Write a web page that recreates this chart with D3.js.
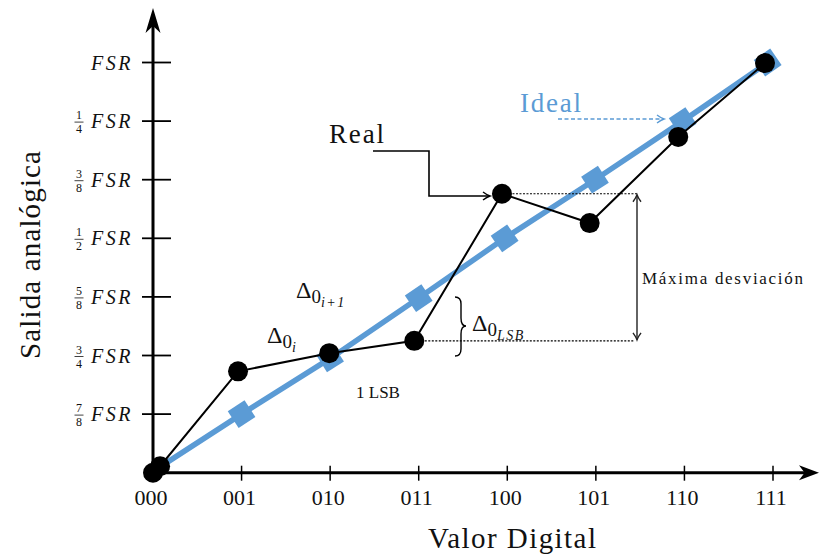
<!DOCTYPE html>
<meta charset="utf-8">
<style>
  body { margin: 0; background: #fff; }
  text { font-family: "Liberation Serif", "Times New Roman", serif; fill: #111; }
  .math { font-style: italic; }
</style>
<body>
<script src="https://d3js.org/d3.v7.min.js"></script>
<script>
// codes on the x axis, fractions on the y axis
var codes = ["000", "001", "010", "011", "100", "101", "110", "111"];
var yTickValues = [1, 2, 3, 4, 5, 6, 7];
var yTickFractions = [["7", "8"], ["3", "4"], ["5", "8"], ["1", "2"], ["3", "8"], ["1", "4"], null];

// ideal transfer curve (x in codes, y in ticks)
var idealX = [0.08, 1.0, 2.0, 3.0, 3.97, 4.99, 5.98, 6.94];
var idealY = [0.1, 1.0, 1.95, 2.98, 4.0, 5.0, 6.0, 7.0];

// real transfer curve
var realX = [0, 0.08, 0.96, 1.99, 2.95, 3.94, 4.93, 5.93, 6.91];
var realY = [0, 0.11, 1.73, 2.04, 2.25, 4.76, 4.26, 5.73, 6.99];

var width = 820, height = 556;
var blue = "#5b9bd5";

var x = d3.scaleLinear().domain([0, 7]).range([153, 773]);
var y = d3.scaleLinear().domain([0, 7]).range([472.7, 62.5]);

var svg = d3.select("body").append("svg")
    .attr("width", width)
    .attr("height", height);

// ---- axes ----
svg.append("line")
    .attr("x1", x(0)).attr("y1", y(0))
    .attr("x2", 808).attr("y2", y(0))
    .attr("stroke", "#000").attr("stroke-width", 3);
svg.append("line")
    .attr("x1", x(0)).attr("y1", y(0))
    .attr("x2", x(0)).attr("y2", 20)
    .attr("stroke", "#000").attr("stroke-width", 3);

function stealth(tx, ty, angle, len, half) {
  svg.append("path")
      .attr("d", "M0,0 L" + (-len) + "," + (-half) + " L" + (-len * 0.72) + ",0 L" + (-len) + "," + half + " Z")
      .attr("transform", "translate(" + tx + "," + ty + ") rotate(" + angle + ")")
      .attr("fill", "#000");
}
stealth(x(0), 8, -90, 25, 7.5);
stealth(819, y(0), 0, 20, 7.5);

// x ticks + labels
svg.selectAll(".xtick")
    .data(codes.slice(1))
  .enter().append("line")
    .attr("class", "xtick")
    .attr("x1", function(d, i) { return x(i + 1); })
    .attr("x2", function(d, i) { return x(i + 1); })
    .attr("y1", y(0) - 7).attr("y2", y(0) + 8)
    .attr("stroke", "#000").attr("stroke-width", 1.5);

svg.selectAll(".xlab")
    .data(codes)
  .enter().append("text")
    .attr("class", "xlab")
    .attr("x", function(d, i) { return i === 0 ? 151 : x(i) - 2; })
    .attr("y", 505)
    .attr("text-anchor", "middle")
    .style("font-size", "22px")
    .text(function(d) { return d; });

// y ticks + labels
svg.selectAll(".ytick")
    .data(yTickValues)
  .enter().append("line")
    .attr("class", "ytick")
    .attr("x1", 142).attr("x2", 171)
    .attr("y1", function(d) { return y(d); })
    .attr("y2", function(d) { return y(d); })
    .attr("stroke", "#000").attr("stroke-width", 1.8);

var ylab = svg.selectAll(".ylab")
    .data(yTickValues)
  .enter().append("g")
    .attr("class", "ylab")
    .attr("transform", function(d) { return "translate(0," + y(d) + ")"; });

ylab.append("text")
    .attr("class", "math")
    .attr("x", 133).attr("y", 7)
    .attr("text-anchor", "end")
    .style("font-size", "20px")
    .style("letter-spacing", "2.5px")
    .text("FSR");

ylab.each(function(d, i) {
  var f = yTickFractions[i];
  if (!f) return;
  var g = d3.select(this);
  g.append("text").attr("x", 79).attr("y", -2).attr("text-anchor", "middle")
      .style("font-size", "12px").text(f[0]);
  g.append("line").attr("x1", 74.5).attr("x2", 83.5).attr("y1", 1).attr("y2", 1)
      .attr("stroke", "#111").attr("stroke-width", 0.8);
  g.append("text").attr("x", 79).attr("y", 12).attr("text-anchor", "middle")
      .style("font-size", "12px").text(f[1]);
});

// axis titles
svg.append("text")
    .attr("transform", "translate(40,255) rotate(-90)")
    .attr("text-anchor", "middle")
    .style("font-size", "29px")
    .attr("textLength", 208)
    .text("Salida analógica");

svg.append("text")
    .attr("x", 512).attr("y", 548)
    .attr("text-anchor", "middle")
    .style("font-size", "29px")
    .attr("textLength", 168)
    .text("Valor Digital");

// ---- ideal curve ----
var ideal = idealX.map(function(d, i) { return [d, idealY[i]]; });
var real = realX.map(function(d, i) { return [d, realY[i]]; });

var line = d3.line()
    .x(function(d) { return x(d[0]); })
    .y(function(d) { return y(d[1]); });

svg.append("path")
    .datum(ideal)
    .attr("d", line)
    .attr("fill", "none")
    .attr("stroke", blue)
    .attr("stroke-width", 5.5)
    .attr("stroke-linejoin", "round");

svg.selectAll(".sq")
    .data(ideal.slice(1))
  .enter().append("rect")
    .attr("class", "sq")
    .attr("x", -10).attr("y", -10)
    .attr("width", 20).attr("height", 20)
    .attr("fill", blue)
    .attr("transform", function(d, i) {
      var p = ideal[i];
      var ang = Math.atan2(y(d[1]) - y(p[1]), x(d[0]) - x(p[0])) * 180 / Math.PI;
      return "translate(" + x(d[0]) + "," + y(d[1]) + ") rotate(" + ang + ")";
    });

// ---- guides ----
var hiPt = real[5], loPt = real[4];
svg.append("line")
    .attr("x1", x(hiPt[0])).attr("x2", 637)
    .attr("y1", y(hiPt[1])).attr("y2", y(hiPt[1]))
    .attr("stroke", "#000").attr("stroke-width", 1.2).attr("stroke-dasharray", "2,1.5");
svg.append("line")
    .attr("x1", x(loPt[0])).attr("x2", 634)
    .attr("y1", y(loPt[1])).attr("y2", y(loPt[1]))
    .attr("stroke", "#000").attr("stroke-width", 1.2).attr("stroke-dasharray", "2,1.5");

function chevron(tx, ty, angle, color) {
  svg.append("path")
      .attr("d", "M-7,-4 Q-3,-1 0,0 Q-3,1 -7,4")
      .attr("transform", "translate(" + tx + "," + ty + ") rotate(" + angle + ")")
      .attr("fill", "none").attr("stroke", color).attr("stroke-width", 1.4);
}

// maximum deviation double arrow
svg.append("line")
    .attr("x1", 637).attr("x2", 637)
    .attr("y1", y(hiPt[1]) + 1).attr("y2", y(loPt[1]) - 1)
    .attr("stroke", "#222").attr("stroke-width", 1.4);
chevron(637, y(hiPt[1]) + 1, -90, "#222");
chevron(637, y(loPt[1]) - 1, 90, "#222");
svg.append("text")
    .attr("x", 642).attr("y", 284)
    .style("font-size", "17px")
    .attr("textLength", 161)
    .text("Máxima desviación");

// ---- real curve ----
svg.append("path")
    .datum(real)
    .attr("d", line)
    .attr("fill", "none")
    .attr("stroke", "#000")
    .attr("stroke-width", 2);

svg.selectAll(".dot")
    .data(real)
  .enter().append("circle")
    .attr("class", "dot")
    .attr("cx", function(d) { return x(d[0]); })
    .attr("cy", function(d) { return y(d[1]); })
    .attr("r", 10)
    .attr("fill", "#000");

// ---- annotations ----
// Real label + elbow arrow
svg.append("text").attr("x", 329).attr("y", 143).style("font-size", "27px")
    .attr("textLength", 55).text("Real");
svg.append("path")
    .attr("d", "M373,151 H429 V196 H489")
    .attr("fill", "none").attr("stroke", "#000").attr("stroke-width", 1.6);
chevron(490, 196, 0, "#000");

// Ideal label + dashed arrow
svg.append("text").attr("x", 520).attr("y", 112).style("font-size", "27px")
    .attr("textLength", 61).style("fill", blue).text("Ideal");
svg.append("line")
    .attr("x1", 558).attr("x2", 662).attr("y1", 119).attr("y2", 119)
    .attr("stroke", blue).attr("stroke-width", 1.6).attr("stroke-dasharray", "4,2.5");
chevron(664, 119, 0, blue);

// brace
svg.append("path")
    .attr("d", "M455,297 Q461,297 461,304 L461,318 Q461,326 466,326 Q461,326 461,334 L461,349 Q461,356 455,356")
    .attr("fill", "none").attr("stroke", "#000").attr("stroke-width", 1.4);

function delta(tx, ty, sub) {
  var t = svg.append("text").attr("x", tx).attr("y", ty);
  t.append("tspan").style("font-size", "24px").text("Δ");
  t.append("tspan").style("font-size", "19px").attr("dy", 5).text("0");
  t.append("tspan").attr("class", "math").style("font-size", "14px").attr("dy", 4)
      .style("letter-spacing", "1.5px").text(sub);
}
delta(296, 298, "i+1");
delta(267, 343, "i");
delta(472, 331, "LSB");

svg.append("text").attr("x", 356).attr("y", 398).style("font-size", "17px").text("1 LSB");
</script>
</body>
